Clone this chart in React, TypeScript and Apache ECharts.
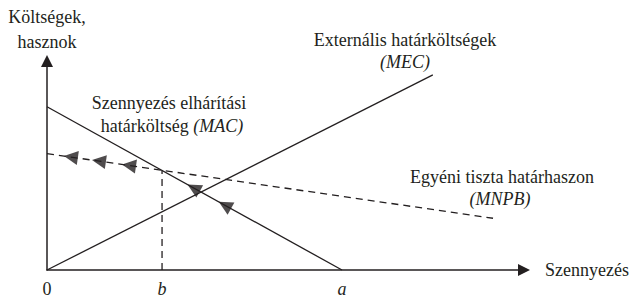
import React, { useEffect, useRef } from 'react';
import * as echarts from 'echarts';

// Abstract units (a = 10 on the x axis, MAC intercept = 10 on the y axis)
const xTickValues = [0, 3.9, 10];
const xTickLabels = ['0', 'b', 'a'];
const macPoints = [[0, 10], [10, 0]];
const mecPoints = [[0, 0], [13.08, 11.95]];
const mnpbPoints = [[0, 7.13], [15.12, 3.17]];
const bGuide = [[3.9, 0], [3.9, 6.1]];
const mnpbArrows = [[0.81, 6.92], [1.76, 6.67], [2.78, 6.40]];
const macArrows = [[4.97, 5.03], [6.03, 3.97]];
const X_MAX = 16.17;
const Y_MAX = 12.8;

const FONT = 'Liberation Serif';
const INK = '#231f20';

export default function App() {
  const ref = useRef<HTMLDivElement>(null);
  useEffect(() => {
    if (!ref.current) return;
    const chart = echarts.init(ref.current, null, { renderer: 'svg' });
    const txt = (text: string, x: number, y: number, italic = false) => ({
      type: 'text',
      x,
      y,
      silent: true,
      style: {
        text,
        fill: INK,
        fontFamily: FONT,
        fontSize: 18,
        fontStyle: italic ? 'italic' : 'normal',
        textAlign: 'center',
        textVerticalAlign: 'middle',
      },
    });
    chart.setOption({
      animation: false,
      grid: { left: 47, right: 108, top: 61, bottom: 27 },
      xAxis: {
        type: 'value',
        min: 0,
        max: X_MAX,
        name: 'Szennyezés',
        nameLocation: 'end',
        nameGap: 21,
        nameTextStyle: { color: INK, fontFamily: FONT, fontSize: 18, verticalAlign: 'middle' },
        axisLine: {
          show: true,
          symbol: ['none', 'triangle'],
          symbolSize: [12, 12],
          lineStyle: { color: INK, width: 1.5 },
        },
        axisTick: { show: false },
        splitLine: { show: false },
        axisLabel: {
          customValues: xTickValues,
          margin: 10,
          color: INK,
          fontFamily: FONT,
          fontSize: 18,
          formatter: (v: number) => {
            const i = xTickValues.findIndex((t) => Math.abs(t - v) < 1e-6);
            const s = i >= 0 ? xTickLabels[i] : '';
            return s === '0' ? s : `{i|${s}}`;
          },
          rich: { i: { fontStyle: 'italic', fontFamily: FONT, fontSize: 18, color: INK } },
        },
      },
      yAxis: {
        type: 'value',
        min: 0,
        max: Y_MAX,
        axisLine: {
          show: true,
          symbol: ['none', 'triangle'],
          symbolSize: [12, 12],
          lineStyle: { color: INK, width: 1.5 },
        },
        axisTick: { show: false },
        axisLabel: { show: false },
        splitLine: { show: false },
      },
      graphic: [
        txt('Költségek,', 47, 17),
        txt('hasznok', 47, 42),
        txt('Externális határköltségek', 405, 40),
        txt('(MEC)', 405, 62, true),
        txt('Szennyezés elhárítási', 169, 103),
        {
          type: 'text',
          x: 172,
          y: 126,
          silent: true,
          style: {
            text: 'határköltség {i|(MAC)}',
            fill: INK,
            fontFamily: FONT,
            fontSize: 18,
            textAlign: 'center',
            textVerticalAlign: 'middle',
            rich: { i: { fontStyle: 'italic', fontFamily: FONT, fontSize: 18, fill: INK } },
          },
        },
        txt('Egyéni tiszta határhaszon', 502, 177),
        txt('(MNPB)', 500, 199, true),
      ],
      series: [
        {
          type: 'line', data: macPoints, symbol: 'none', silent: true,
          lineStyle: { color: INK, width: 1.3 },
        },
        {
          type: 'line', data: mecPoints, symbol: 'none', silent: true,
          lineStyle: { color: INK, width: 1.3 },
        },
        {
          type: 'line', data: mnpbPoints, symbol: 'none', silent: true,
          lineStyle: { color: INK, width: 1.3, type: [7, 5] },
        },
        {
          type: 'line', data: bGuide, symbol: 'none', silent: true,
          lineStyle: { color: INK, width: 1.3, type: [7, 5] },
        },
        {
          type: 'scatter', data: mnpbArrows, symbol: 'triangle', symbolSize: [14, 14],
          symbolRotate: 81.7, silent: true, itemStyle: { color: INK },
        },
        {
          type: 'scatter', data: macArrows, symbol: 'triangle', symbolSize: [14, 14],
          symbolRotate: 60.9, silent: true, itemStyle: { color: INK },
        },
      ],
    });
    return () => chart.dispose();
  }, []);
  return (
    <div
      ref={ref}
      style={{ position: 'absolute', left: 0, top: 0, width: 632, height: 298, background: '#fff' }}
    />
  );
}
